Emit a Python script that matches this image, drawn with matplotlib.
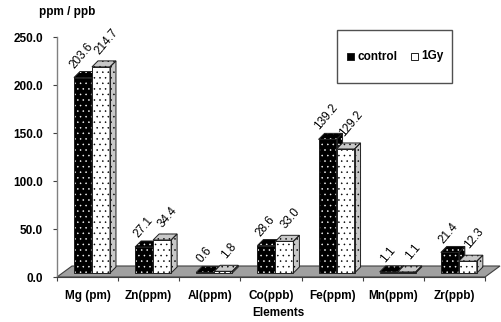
import matplotlib
matplotlib.use("Agg")
import matplotlib.pyplot as plt
from matplotlib.patches import Polygon, Rectangle

plt.rcParams['font.family'] = ['Liberation Sans', 'DejaVu Sans']
plt.rcParams['hatch.linewidth'] = 0.35

categories = ["Mg (pm)", "Zn(ppm)", "Al(ppm)", "Co(ppb)", "Fe(ppm)", "Mn(ppm)", "Zr(ppb)"]
control = [203.6, 27.1, 0.6, 28.6, 139.2, 1.1, 21.4]
gy1 = [214.7, 34.4, 1.8, 33.0, 129.2, 1.1, 12.3]
series_names = ["control", "1Gy"]
yticks = [0, 50, 100, 150, 200, 250]

W, H = 502, 322
fig = plt.figure(figsize=(W / 100, H / 100), dpi=100)
ax_l, ax_r, ax_t, ax_b = 57, 485, 37, 277
ax = fig.add_axes([ax_l / W, (H - ax_b) / H, (ax_r - ax_l) / W, (ax_b - ax_t) / H])
n = len(categories)
ax.set_xlim(-0.5, n - 0.5)
ax.set_ylim(0, 250)

# pixel -> data conversion
sx = n / (ax_r - ax_l)
sy = 250 / (ax_b - ax_t)

# floor
fdx, fdy = 15 * sx, 11 * sy
floor = Polygon([(-0.5, 0), (n - 0.5, 0), (n - 0.5 + fdx, fdy), (-0.5 + fdx, fdy)],
                closed=True, facecolor="#a0a0a0", edgecolor="#404040", lw=0.8,
                clip_on=False, zorder=1)
ax.add_patch(floor)

# bars
bw = 18 * sx
off_x, off_y = 4.4 * sx, 4 * sy
ddx, ddy = 6 * sx, 6 * sy

styles = [
    dict(front="black", dots="white", top="black", side="black", lab=(-1, 7)),
    dict(front="white", dots="black", top="#c8c8c8", side="#c8c8c8", lab=(6, 10)),
]

def draw_face(pts, fc, dots, z):
    ax.add_patch(Polygon(pts, closed=True, facecolor=fc, edgecolor=dots, hatch="...",
                         lw=0, clip_on=False, zorder=z))
    ax.add_patch(Polygon(pts, closed=True, fill=False, edgecolor="#202020", lw=0.7,
                         clip_on=False, zorder=z + 0.1))

for i in range(n):
    for s, vals in enumerate([control, gy1]):
        v = vals[i]
        st = styles[s]
        x0 = i + off_x - bw + s * bw
        x1 = x0 + bw
        y0 = off_y
        y1 = off_y + v
        z = 3 + s
        front = [(x0, y0), (x1, y0), (x1, y1), (x0, y1)]
        top = [(x0, y1), (x1, y1), (x1 + ddx, y1 + ddy), (x0 + ddx, y1 + ddy)]
        side = [(x1, y0), (x1 + ddx, y0 + ddy), (x1 + ddx, y1 + ddy), (x1, y1)]
        draw_face(side, st["side"], st["dots"], z)
        draw_face(top, st["top"], st["dots"], z)
        draw_face(front, st["front"], st["dots"], z)
        # value label
        lx = (x0 + x1) / 2 + st["lab"][0] * sx
        ly = y1 + st["lab"][1] * sy
        ax.text(lx, ly, f"{v:.1f}", rotation=50, ha="center", va="bottom",
                fontsize=8.5, color="black", zorder=10, clip_on=False)

# axes styling
for sp in ["top", "right"]:
    ax.spines[sp].set_visible(False)
ax.spines["left"].set_color("#808080")
ax.spines["left"].set_linewidth(1.0)
ax.set_yticks(yticks)
ax.set_yticklabels([f"{t:.1f}" for t in yticks], fontsize=8.5, fontweight="bold")
ax.tick_params(axis="y", length=3, width=0.8, color="#404040", pad=7)
ax.set_xticks(range(n))
ax.set_xticklabels(categories, fontsize=8.5, fontweight="bold")
ax.set_xticks([i - 0.5 for i in range(n + 1)], minor=True)
ax.tick_params(axis="x", which="major", length=0, pad=9)
ax.tick_params(axis="x", which="minor", length=3, width=0.8, color="#404040")
ax.spines["bottom"].set_color("#404040")
ax.spines["bottom"].set_linewidth(0.8)
ax.patch.set_visible(False)

fig.text(67 / W, 1 - 12 / H, "ppm / ppb", ha="center", va="center",
         fontsize=8.5, fontweight="bold")
fig.text(278 / W, 1 - 313 / H, "Elements", ha="center", va="center",
         fontsize=8.5, fontweight="bold")

# legend box
lx0, ly0, lx1, ly1 = 337, 30, 452, 83
fig.patches.append(Rectangle((lx0 / W, 1 - ly1 / H), (lx1 - lx0) / W, (ly1 - ly0) / H,
                             transform=fig.transFigure, facecolor="white",
                             edgecolor="#505050", lw=1.0))
for k, (name, xs, xt) in enumerate(zip(series_names, [347, 411], [357, 421])):
    st = styles[k]
    fig.patches.append(Rectangle((xs / W, 1 - 60 / H), 7 / W, 7 / H,
                                 transform=fig.transFigure, facecolor=st["front"],
                                 edgecolor="#202020", lw=0.7))
    fig.text(xt / W, 1 - 56.5 / H, name, ha="left", va="center",
             fontsize=8.5, fontweight="bold")

fig.savefig("out.png", dpi=100)
